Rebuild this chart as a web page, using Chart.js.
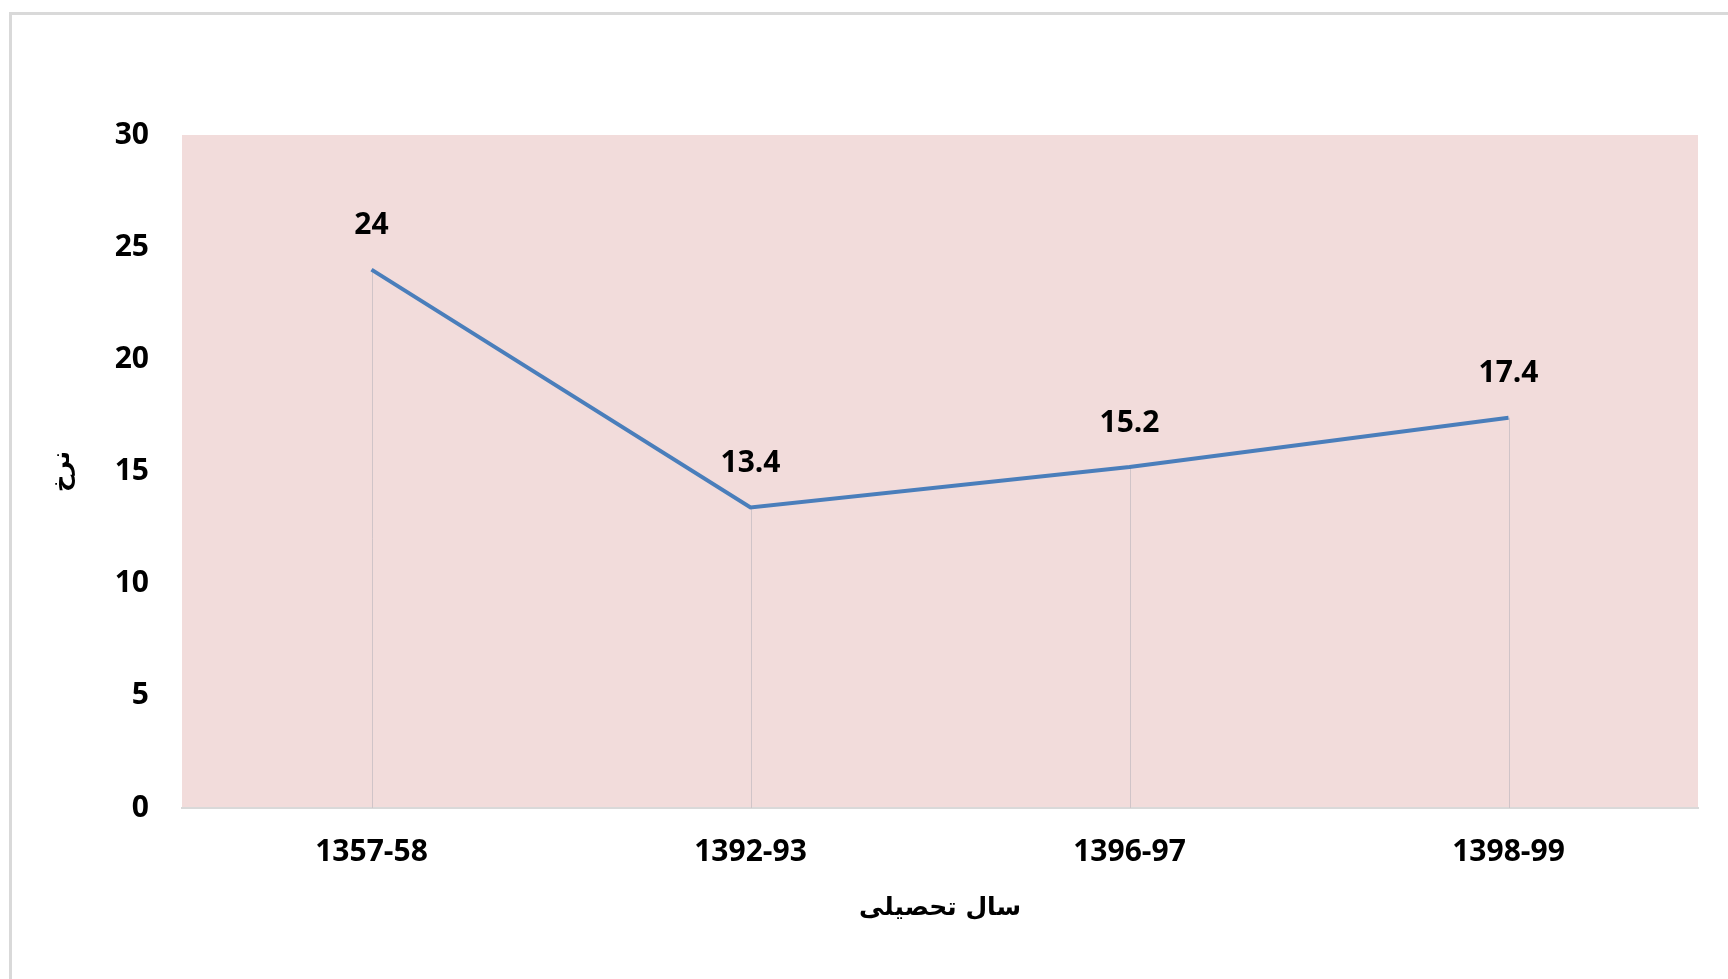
<!DOCTYPE html>
<html>
<head>
<meta charset="utf-8">
<script src="https://cdn.jsdelivr.net/npm/chart.js@4/dist/chart.umd.min.js"></script>
<style>
  html, body { margin: 0; padding: 0; background: #fff; overflow: hidden; }
  #frame {
    position: absolute; left: 9px; top: 12px; width: 1730px; height: 980px;
    border-left: 3px solid #D9D9D9; border-top: 3px solid #D9D9D9;
  }
  #rateChart { position: absolute; left: 0; top: 0; }
</style>
</head>
<body>
<div id="frame"></div>
<canvas id="rateChart" width="1728" height="979"></canvas>
<script>
const years = ['1357-58', '1392-93', '1396-97', '1398-99'];
const rates = [24, 13.4, 15.2, 17.4];
const yMin = 0;
const yMax = 30;
const yStep = 5;
const xTitle = 'سال تحصیلی';
const yTitle = 'نرخ';

const plotBackground = {
    id: 'plotBackground',
    beforeDraw(chart) {
        const { ctx, chartArea: a } = chart;
        ctx.save();
        ctx.fillStyle = '#F2DCDB';
        ctx.fillRect(a.left, a.top, a.right - a.left, a.bottom - a.top);
        ctx.restore();
    }
};

// vertical drop lines from each point down to the axis
const dropLines = {
    id: 'dropLines',
    beforeDatasetsDraw(chart) {
        const { ctx, chartArea: a } = chart;
        const meta = chart.getDatasetMeta(0);
        ctx.save();
        ctx.strokeStyle = '#D0C4C8';
        ctx.lineWidth = 1;
        meta.data.forEach((pt) => {
            const x = Math.round(pt.x) + 0.5;
            ctx.beginPath();
            ctx.moveTo(x, pt.y);
            ctx.lineTo(x, a.bottom);
            ctx.stroke();
        });
        ctx.restore();
    }
};

const valueLabels = {
    id: 'valueLabels',
    afterDatasetsDraw(chart) {
        const { ctx } = chart;
        const meta = chart.getDatasetMeta(0);
        ctx.save();
        ctx.font = 'bold 30px "Open Sans", sans-serif';
        ctx.fillStyle = '#000';
        ctx.textAlign = 'center';
        ctx.textBaseline = 'middle';
        meta.data.forEach((pt, i) => {
            ctx.fillText(String(rates[i]), pt.x, pt.y - 44);
        });
        ctx.restore();
    }
};

const ctx = document.getElementById('rateChart');

new Chart(ctx, {
    type: 'line',
    data: {
        labels: years,
        datasets: [{
            label: yTitle,
            data: rates,
            borderColor: '#4A7EBB',
            borderWidth: 4,
            pointRadius: 0,
            tension: 0,
            fill: false,
        }]
    },
    options: {
        responsive: false,
        animation: false,
        layout: {
            padding: { left: 0, top: 135, right: 30, bottom: 0 }
        },
        plugins: {
            legend: { display: false },
            tooltip: { enabled: false }
        },
        scales: {
            x: {
                offset: true,
                grid: { display: false, drawTicks: false },
                border: { display: true, color: '#D9D9D9', width: 2 },
                ticks: {
                    color: '#000',
                    padding: 26,
                    font: { family: 'Open Sans', size: 30, weight: 'bold' }
                },
                title: {
                    display: true,
                    text: xTitle,
                    color: '#000',
                    padding: { top: 0, bottom: 56 },
                    font: { family: 'DejaVu Sans', size: 25, weight: 'bold' }
                },
                afterFit: (scale) => { scale.height = 171; }
            },
            y: {
                min: yMin,
                max: yMax,
                grid: { display: false, drawTicks: false },
                border: { display: false },
                ticks: {
                    stepSize: yStep,
                    color: '#000',
                    padding: 33,
                    font: { family: 'Open Sans', size: 30, weight: 'bold' }
                },
                title: {
                    display: true,
                    text: yTitle,
                    color: '#000',
                    padding: { top: 48, bottom: 0 },
                    font: { family: 'DejaVu Sans', size: 24, weight: 'bold' }
                },
                afterFit: (scale) => { scale.width = 182; }
            }
        }
    },
    plugins: [plotBackground, dropLines, valueLabels]
});
</script>
</body>
</html>
